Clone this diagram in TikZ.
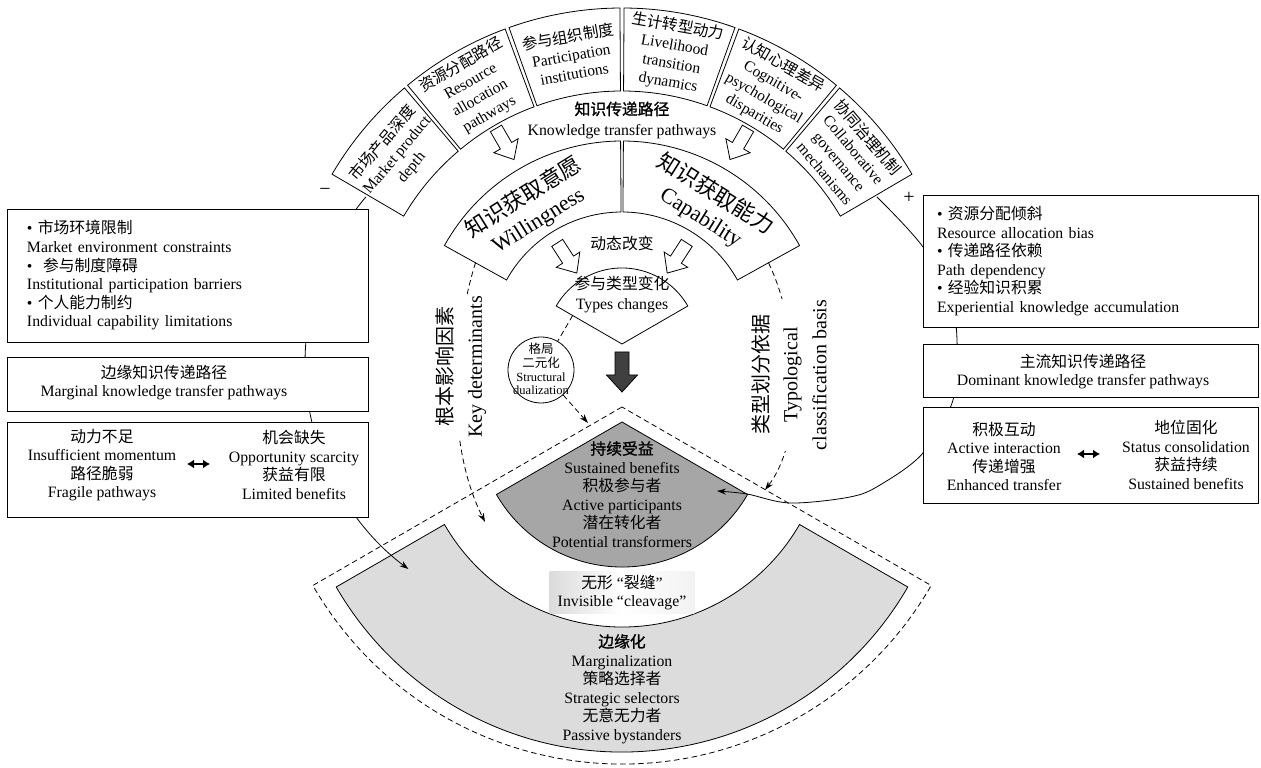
\documentclass[tikz,border=0pt]{standalone}
\usepackage{fontspec}
\setmainfont{Liberation Serif}
\newfontfamily\cjk{Noto Sans CJK SC}
\newfontfamily\cjkb[FakeBold=1.2]{Noto Sans CJK SC}
\usetikzlibrary{arrows.meta,calc}
\newcommand\zh[1]{{\cjk #1}}
\newcommand\zhb[1]{{\cjkb #1}}
\definecolor{fandark}{RGB}{166,166,166}
\definecolor{fanlight}{RGB}{220,220,220}
\definecolor{arrdark}{RGB}{64,64,64}
\begin{document}
\begin{tikzpicture}[x=1pt,y=1pt,
  every node/.style={inner sep=0pt},
  mytxt/.style={font=\fontsize{15.8}{18.6}\selectfont, align=center},
  ringtxt/.style={font=\fontsize{15.5}{18.7}\selectfont, align=center},
  mybig/.style={font=\fontsize{22}{27}\selectfont, align=center},
  mysml/.style={font=\fontsize{12.5}{13.8}\selectfont, align=center},
  vlab/.style={font=\fontsize{20}{29}\selectfont, align=center, rotate=90, fill=white, inner sep=1pt},
  sect/.style={draw, line width=0.8pt, fill=white},
  box/.style={draw, line width=0.8pt, fill=white},
  ln/.style={line width=0.8pt},
  dsh/.style={line width=0.8pt, dash pattern=on 5.5pt off 3.5pt},
  arr/.style={-{Stealth[length=9pt,width=6pt]}},
  dbl/.style={{Latex[length=7pt,width=9pt]}-{Latex[length=7pt,width=9pt]}, line width=1.6pt},
  harrow/.pic={\draw[line width=0.8pt, fill=white] (-18,-6.5) -- (2,-6.5) -- (2,-14) -- (18,0) -- (2,14) -- (2,6.5) -- (-18,6.5) -- cycle;},
  darrow/.pic={\draw[line width=0.8pt, fill=arrdark] (-20,-7) -- (3,-7) -- (3,-15.5) -- (20,0) -- (3,15.5) -- (3,7) -- (-20,7) -- cycle;}
]
\fill[white] (0,0) rectangle (1261,768);
\useasboundingbox (0,0) rectangle (1261,768);

\coordinate (O) at (622,424);
\coordinate (P) at (622,346);
\coordinate (Q) at (622,361);

% dashed outline
\draw[dsh] (Q) -- ($(Q)+(210:357)$) arc[start angle=210,end angle=330,radius=357] -- cycle;
% light ring
\draw[ln, fill=fanlight] ($(P)+(210:205)$) arc[start angle=210,end angle=330,radius=205] -- ($(P)+(330:330)$) arc[start angle=330,end angle=210,radius=330] -- cycle;
% dark fan
\draw[ln, fill=fandark] (P) -- ($(P)+(210:145)$) arc[start angle=210,end angle=330,radius=145] -- cycle;

\node[mytxt, left color=gray!28, right color=gray!10, middle color=white, inner xsep=8pt, inner ysep=3pt] (clv) at (622,175.5) {\zh{无形}~“\zh{裂缝}”\\Invisible “cleavage”};
\node[mytxt] (margt) at (622,79) {\zhb{边缘化}\\Marginalization\\\zh{策略选择者}\\Strategic selectors\\\zh{无意无力者}\\Passive bystanders};
\node[mytxt] (sust) at (622,273.5) {\zhb{持续受益}\\Sustained benefits\\\zh{积极参与者}\\Active participants\\\zh{潜在转化者}\\Potential transformers};

% side curves
\coordinate (ringL) at ($(O)+(150:294.5)$);
\coordinate (ringR) at ($(O)+(30:294.5)$);
\coordinate (margin) at ($(562,405)+(233.3:257)$);
\coordinate (sustin) at (717,277);
\draw[ln, arr] ($(562,405)+(139.7:257)$) arc[start angle=139.7,end angle=233.3,radius=257];
\draw[ln, arr] plot[smooth, tension=0.55] coordinates {(877,571) (923,521) (950,468) (957,428) (953,368) (923,315) (880,283) (850,271) (790,265) (747,274) (717,277)};

% top ring
\foreach \a in {30,50,70,90,110,130}{
  \pgfmathsetmacro\s{\a+0.35}
  \pgfmathsetmacro\e{\a+19.65}
  \draw[sect] ($(O)+(\s:253)$) arc[start angle=\s,end angle=\e,radius=253] -- ($(O)+(\e:336)$) arc[start angle=\e,end angle=\s,radius=336] -- cycle;
}
\node[ringtxt, rotate=50] (s1) at ($(O)+(140:294)$) {\zh{市场产品深度}\\Market product\\depth};
\node[ringtxt, rotate=30] (s2) at ($(O)+(120:294)$) {\zh{资源分配路径}\\Resource\\allocation\\pathways};
\node[ringtxt, rotate=10] (s3) at ($(O)+(100:294)$) {\zh{参与组织制度}\\Participation\\institutions};
\node[ringtxt, rotate=-10] (s4) at ($(O)+(80:294)$) {\zh{生计转型动力}\\Livelihood\\transition\\dynamics};
\node[ringtxt, rotate=-30] (s5) at ($(O)+(60:294)$) {\zh{认知心理差异}\\Cognitive-\\psychological\\disparities};
\node[ringtxt, rotate=-50] (s6) at ($(O)+(40:294)$) {\zh{协同治理机制}\\Collaborative\\governance\\mechanisms};

\node[font=\fontsize{15.8}{21}\selectfont, align=center] (ktp) at (622,647.5) {\zhb{知识传递路径}\\Knowledge transfer pathways};

% inner ring
\draw[sect] ($(O)+(29:132)$) arc[start angle=29,end angle=89.6,radius=132] -- ($(O)+(89.6:203)$) arc[start angle=89.6,end angle=29,radius=203] -- cycle;
\draw[sect] ($(O)+(90.4:132)$) arc[start angle=90.4,end angle=151,radius=132] -- ($(O)+(151:203)$) arc[start angle=151,end angle=90.4,radius=203] -- cycle;
\node[mybig, rotate=32] (wt) at ($(O)+(124:163)$) {\zh{知识获取意愿}\\Willingness};
\node[mybig, rotate=-32] (ct) at ($(O)+(58:163)$) {\zh{知识获取能力}\\Capability};

% types fan
\draw[sect] (O) -- ($(O)+(30:76)$) arc[start angle=30,end angle=150,radius=76] -- cycle;
\node[font=\fontsize{15.8}{20}\selectfont, align=center] (tct) at (622,473) {\zh{参与类型变化}\\Types changes};
\node[mytxt] (dyn) at (622,525) {\zh{动态改变}};

% hollow arrows
\pic[rotate=-60] at (505,624) {harrow};
\pic[rotate=-120] at (739,624) {harrow};
\pic[rotate=-57] at (567,510) {harrow};
\pic[rotate=-123] at (677,510) {harrow};
\pic[rotate=-90] at (622,396) {darrow};

% dashed arrows with labels
\coordinate (wend) at ($(O)+(151:167.5)$);
\coordinate (cend) at ($(O)+(29:167.5)$);
\coordinate (kd) at (485,246);
\coordinate (tc) at (765,278);
\draw[dsh, arr] (wend) .. controls (455,440) and (443,330) .. (kd);
\draw[dsh, arr] (cend) .. controls (800,440) and (805,330) .. (tc);
\node[vlab] (keyl) at (461,401) {\zh{根本影响因素}\\Key determinants};
\node[vlab] (typl) at (789,393) {\zh{类型划分依据}\\Typological\\classification basis};

% structural dualization
\node[draw, line width=0.8pt, circle, minimum size=66pt, fill=white] (sd) at (541,398) {};
\node[mysml] (sdt) at (541,399) {\zh{格局}\\\zh{二元化}\\Structural\\dualization};
\coordinate (tfl) at ($(O)+(150:57)$);
\coordinate (roofpt) at (588,345);
\draw[dsh] (tfl) -- (sd);
\draw[dsh, arr] (sd) -- (roofpt);

% signs
\node[font=\fontsize{20}{22}\selectfont] (minus) at (325,576) {−};
\node[font=\fontsize{20}{22}\selectfont] (plus) at (909,570) {+};

% left boxes
\node[box, minimum width=361pt, minimum height=133pt, text width=321pt, inner xsep=20pt, align=left, font=\fontsize{15.8}{18.6}\selectfont] (L1) at (187.5,492.5) {\textbullet\ \zh{市场环境限制}\\Market environment constraints\\\textbullet\ \ \zh{参与制度障碍}\\Institutional participation barriers\\\textbullet\ \zh{个人能力制约}\\Individual capability limitations};
\node[box, minimum width=361pt, minimum height=54pt] (L2) at (187.5,384) {};
\node[mytxt] (L2t) at (164,385.5) {\zh{边缘知识传递路径}\\Marginal knowledge transfer pathways};
\node[box, minimum width=361pt, minimum height=95pt] (L3) at (187.5,298.5) {};
\node[mytxt] (L3a) at (102,303) {\zh{动力不足}\\Insufficient momentum\\\zh{路径脆弱}\\Fragile pathways};
\node[mytxt] (L3b) at (294,303) {\zh{机会缺失}\\Opportunity scarcity\\\zh{获益有限}\\Limited benefits};
\coordinate (la1) at (187,304);
\coordinate (la2) at (210,304);
\draw[dbl] (la1) -- (la2);

% right boxes
\node[box, minimum width=335pt, minimum height=132pt, text width=307pt, inner xsep=14pt, align=left, font=\fontsize{15.8}{18.6}\selectfont] (R1) at (1090.5,507) {\textbullet\ \zh{资源分配倾斜}\\Resource allocation bias\\\textbullet\ \zh{传递路径依赖}\\Path dependency\\\textbullet\ \zh{经验知识积累}\\Experiential knowledge accumulation};
\node[box, minimum width=335pt, minimum height=53pt] (R2) at (1090.5,397.5) {};
\node[mytxt] (R2t) at (1083,396.5) {\zh{主流知识传递路径}\\Dominant knowledge transfer pathways};
\node[box, minimum width=335pt, minimum height=96pt] (R3) at (1090.5,313) {};
\node[mytxt] (R3a) at (1004,311.5) {\zh{积极互动}\\Active interaction\\\zh{传递增强}\\Enhanced transfer};
\node[mytxt] (R3b) at (1186,313) {\zh{地位固化}\\Status consolidation\\\zh{获益持续}\\Sustained benefits};
\coordinate (ra1) at (1077,314);
\coordinate (ra2) at (1100,314);
\draw[dbl] (ra1) -- (ra2);
\end{tikzpicture}
\end{document}
